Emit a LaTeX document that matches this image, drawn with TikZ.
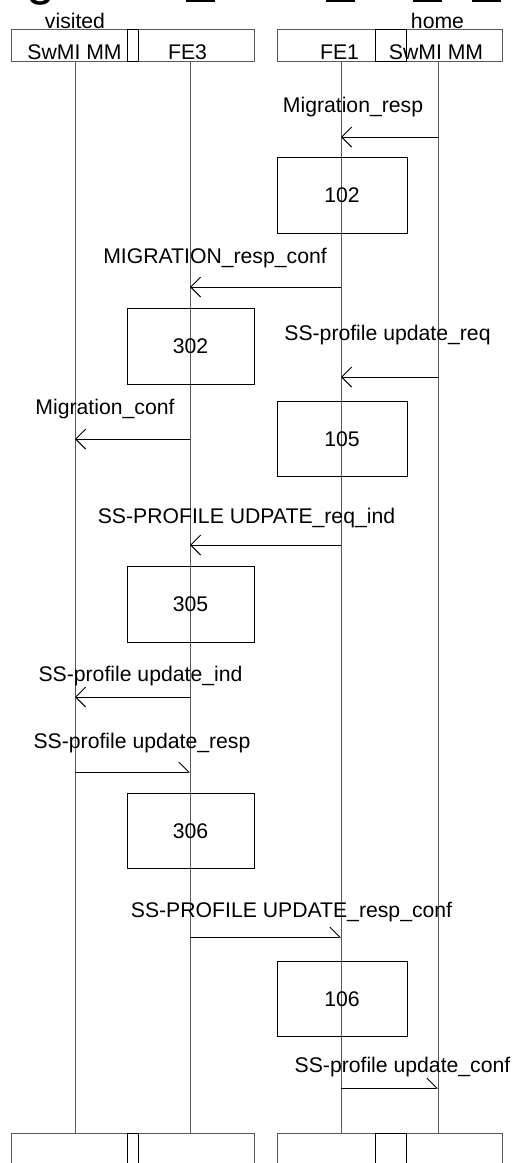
\documentclass[tikz,border=0pt]{standalone}
\usepackage{fontspec}
\setmainfont{Liberation Sans}
\usetikzlibrary{arrows.meta, positioning}

\begin{document}
\begin{tikzpicture}[x=0.5pt, y=-0.5pt,
		font=\fontsize{10.6}{12}\selectfont,
		lifeline/.style={draw=black!65, line width=0.5pt},
		entity/.style={draw=black!65, line width=0.5pt},
		proc/.style={draw, line width=0.5pt, minimum width=65pt, minimum height=37.75pt, inner sep=0pt},
		msgl/.style={line width=0.5pt, -{Straight Barb[length=5pt, width=10pt]}},
		msgr/.style={line width=0.5pt, -{Straight Barb[left, length=5pt, width=10pt]}},
		lbl/.style={anchor=base, inner sep=0pt}]
			\useasboundingbox (0,0) rectangle (515,1163);
			\clip (0,0) rectangle (515,1163);
			% Cut-off heading:
			\node[lbl, font=\fontsize{26}{30}\selectfont] (ttl) at (41,-6) {g};
			\fill (186,0) rectangle (215,2);
			\fill (326,0) rectangle (355,2);
			\fill (413,0) rectangle (442,2);
			\fill (472,0) rectangle (501,2);
			% Entities:
			\draw[entity] (11,29) rectangle (254,61);
			\draw[line width=0.5pt] (127,29) rectangle (138,61);
			\draw[entity] (277,29) rectangle (502,61);
			\draw[line width=0.5pt] (375,29) rectangle (406,61);
			\draw[entity] (11,1133) rectangle (254,1190);
			\draw[line width=0.5pt] (127,1133) rectangle (138,1190);
			\draw[entity] (277,1133) rectangle (502,1190);
			\draw[line width=0.5pt] (375,1133) rectangle (406,1190);
			\node[lbl] (vis) at (75,28) {visited};
			\node[lbl] (home) at (437.5,28) {home};
			\node[lbl] (mmv) at (74.5,59) {SwMI MM};
			\node[lbl] (fe3) at (187.5,59) {FE3};
			\node[lbl] (fe1) at (339.5,59) {FE1};
			\node[lbl] (mmh) at (436,59) {SwMI MM};
			% Lifelines:
			\coordinate (v0) at (75,61); \coordinate (v1) at (75,1133);
			\coordinate (f30) at (190,61); \coordinate (f31) at (190,1133);
			\coordinate (f10) at (341,61); \coordinate (f11) at (341,1133);
			\coordinate (h0) at (438,61); \coordinate (h1) at (438,1133);
			\draw[lifeline] (v0) -- (v1);
			\draw[lifeline] (f30) -- (f31);
			\draw[lifeline] (f10) -- (f11);
			\draw[lifeline] (h0) -- (h1);
			% Processing boxes:
			\node[proc] (p102) at (342,195.5) {102};
			\node[proc, minimum width=63.5pt] (p302) at (190.5,346.5) {302};
			\node[proc] (p105) at (342,439) {105};
			\node[proc, minimum width=63.5pt] (p305) at (190.5,604.5) {305};
			\node[proc, minimum width=63.5pt] (p306) at (190.5,831) {306};
			\node[proc] (p106) at (342,999) {106};
			% Messages:
			\coordinate (m1s) at (438,137); \coordinate (m1e) at (341,137);
			\coordinate (m2s) at (341,287); \coordinate (m2e) at (190,287);
			\coordinate (m3s) at (438,377); \coordinate (m3e) at (341,377);
			\coordinate (m4s) at (190,439); \coordinate (m4e) at (75,439);
			\coordinate (m5s) at (341,545); \coordinate (m5e) at (190,545);
			\coordinate (m6s) at (190,697); \coordinate (m6e) at (75,697);
			\coordinate (m7s) at (75,772); \coordinate (m7e) at (190,772);
			\coordinate (m8s) at (190,937); \coordinate (m8e) at (341,937);
			\coordinate (m9s) at (341,1088); \coordinate (m9e) at (438,1088);
			\draw[msgl] (m1s) -- (m1e);
			\draw[msgl] (m2s) -- (m2e);
			\draw[msgl] (m3s) -- (m3e);
			\draw[msgl] (m4s) -- (m4e);
			\draw[msgl] (m5s) -- (m5e);
			\draw[msgl] (m6s) -- (m6e);
			\draw[msgr] (m7s) -- (m7e);
			\draw[msgr] (m8s) -- (m8e);
			\draw[msgr] (m9s) -- (m9e);
			\node[lbl] (l1) at (353,112) {Migration\_resp};
			\node[lbl] (l2) at (215,263) {MIGRATION\_resp\_conf};
			\node[lbl] (l3) at (387.5,340) {SS-profile update\_req};
			\node[lbl] (l4) at (105,414) {Migration\_conf};
			\node[lbl] (l5) at (246.5,523) {SS-PROFILE UDPATE\_req\_ind};
			\node[lbl] (l6) at (140.5,681) {SS-profile update\_ind};
			\node[lbl] (l7) at (142,748) {SS-profile update\_resp};
			\node[lbl] (l8) at (291.5,917) {SS-PROFILE UPDATE\_resp\_conf};
			\node[lbl] (l9) at (402.5,1072) {SS-profile update\_conf};
		\end{tikzpicture}
\end{document}
